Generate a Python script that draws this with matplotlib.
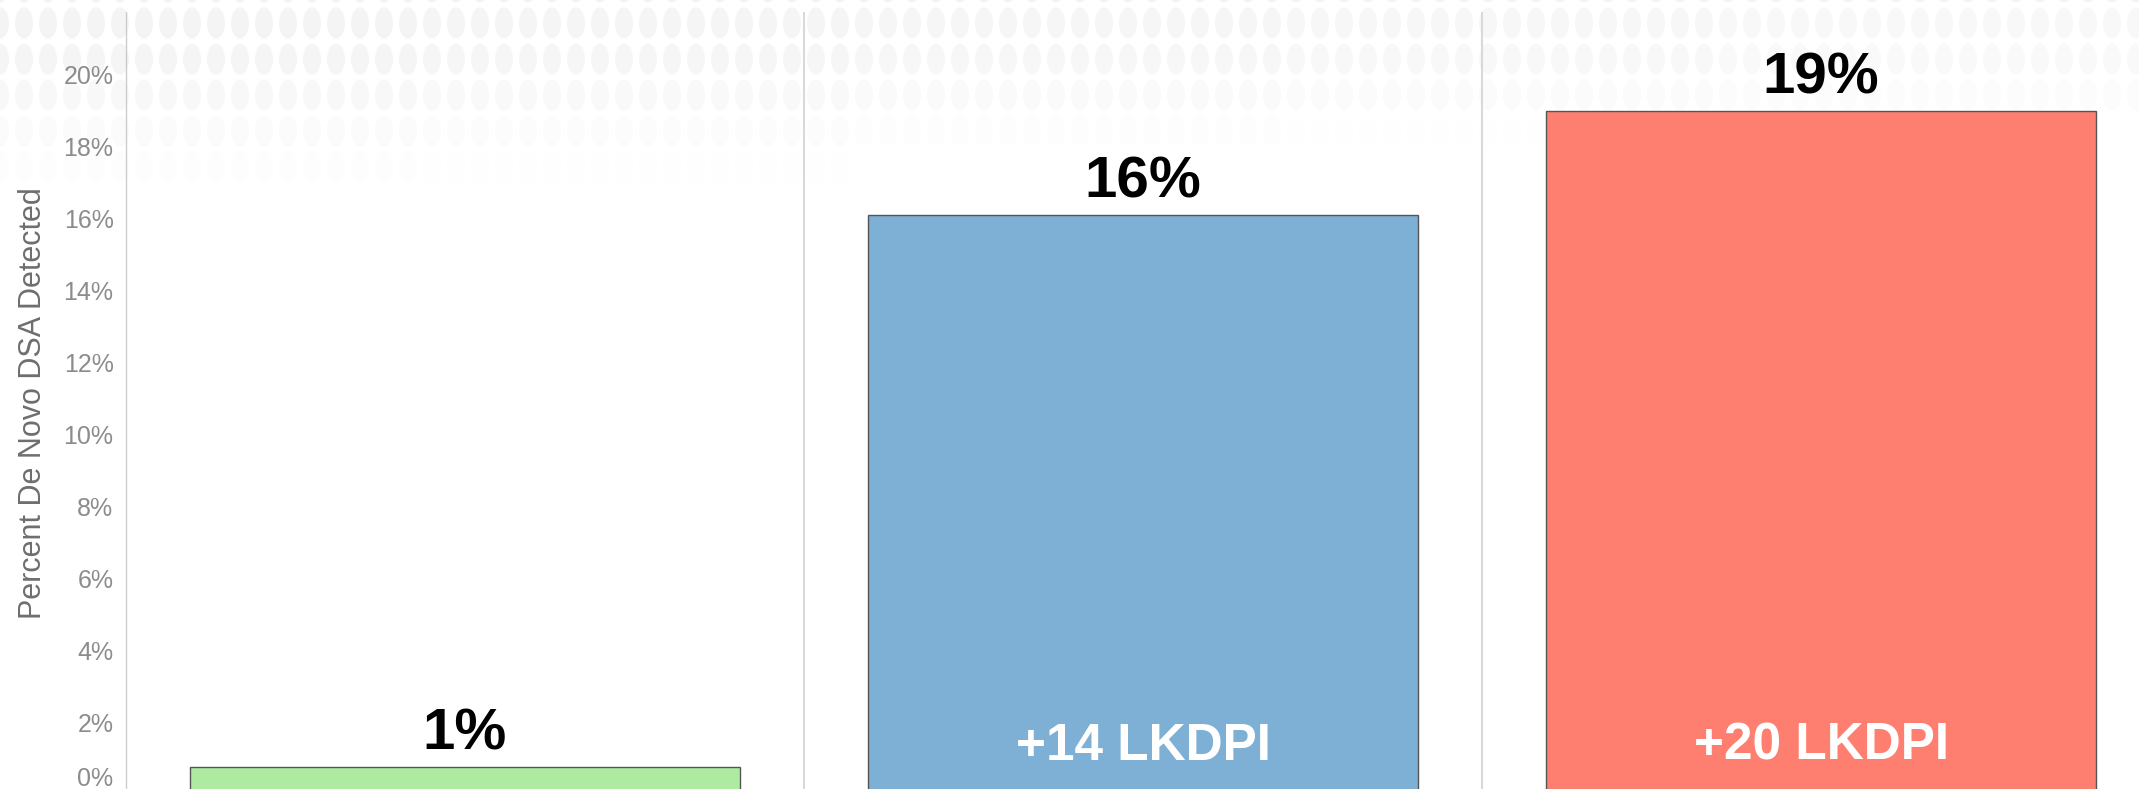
import matplotlib
matplotlib.use('Agg')
import matplotlib.pyplot as plt
from matplotlib.patches import Ellipse

# data
positions = [0, 1, 2]
inner_labels = ['', '+14 LKDPI', '+20 LKDPI']
dsa_pct = [0.75, 16.1, 19.0]
value_labels = ['1%', '16%', '19%']
bar_colors = ['#AEEBA0', '#7EAFD4', '#FE7F70']
ytick_vals = [0, 2, 4, 6, 8, 10, 12, 14, 16, 18, 20]
ytick_text = ['', '2%', '4%', '6%', '8%', '10%', '12%', '14%', '16%', '18%', '20%']

plt.rcParams['font.family'] = ['Liberation Sans', 'DejaVu Sans']

W, H = 2139, 789
fig = plt.figure(figsize=(W / 100, H / 100), dpi=100)
fig.patch.set_facecolor('white')

# faint kidney-like background pattern along the top, fading downwards/right
row_gray = [244, 244, 245, 248, 251, 253]
for r, g0 in enumerate(row_gray):
    cy = -13 + 36 * r
    for j in range(0, 91):
        cx = 24 * j
        g = min(255, g0 + (r >= 1) * int(5 * cx / W))
        if g >= 255:
            continue
        e = Ellipse((cx / 100, (H - cy) / 100), 0.18, 0.31,
                    transform=fig.dpi_scale_trans,
                    facecolor=(g / 255, g / 255, g / 255),
                    edgecolor='none', zorder=0)
        fig.add_artist(e)

ax = fig.add_axes([126 / W, (H - 794) / H, 2034 / W, 782 / H])
ax.patch.set_alpha(0)

ax.bar(positions, dsa_pct, width=0.81, color=bar_colors,
       edgecolor='#555555', linewidth=1.0, zorder=3)

for i, (v, lbl) in enumerate(zip(dsa_pct, value_labels)):
    ax.annotate(lbl, (i, v), xytext=(0, 12.5), textcoords='offset points',
                ha='center', va='baseline', fontsize=42, fontweight='bold',
                color='black', zorder=4)
for i, lbl in enumerate(inner_labels):
    if lbl:
        ax.text(i, 0.95, lbl, ha='center', va='baseline', color='white',
                fontsize=37, fontweight='bold', zorder=4)

for xd in (0.5, 1.5):
    ax.axvline(xd, color='#d9d9d9', linewidth=1.5, zorder=1)

ax.set_xlim(-0.5, 2.5)
ax.set_ylim(0, 21.75)
ax.set_xticks([])
ax.set_yticks(ytick_vals)
ax.set_yticklabels(ytick_text)
ax.tick_params(axis='y', length=0, pad=9, labelsize=18, labelcolor='#8c8c8c')
# 0% label sits a little higher so it stays inside the picture
ax.annotate('0%', xy=(0, 0), xycoords=('axes fraction', 'data'),
            xytext=(-9, 12.5), textcoords='offset points', ha='right',
            va='center_baseline', fontsize=18, color='#8c8c8c')

for s in ('top', 'right', 'bottom'):
    ax.spines[s].set_visible(False)
ax.spines['left'].set_color('#cccccc')
ax.spines['left'].set_linewidth(1.0)

ax.set_ylabel('Percent De Novo DSA Detected', fontsize=22, color='#6e6e6e')
ax.yaxis.set_label_coords(-0.0383, 0.5)

fig.savefig('out.png', dpi=100)
